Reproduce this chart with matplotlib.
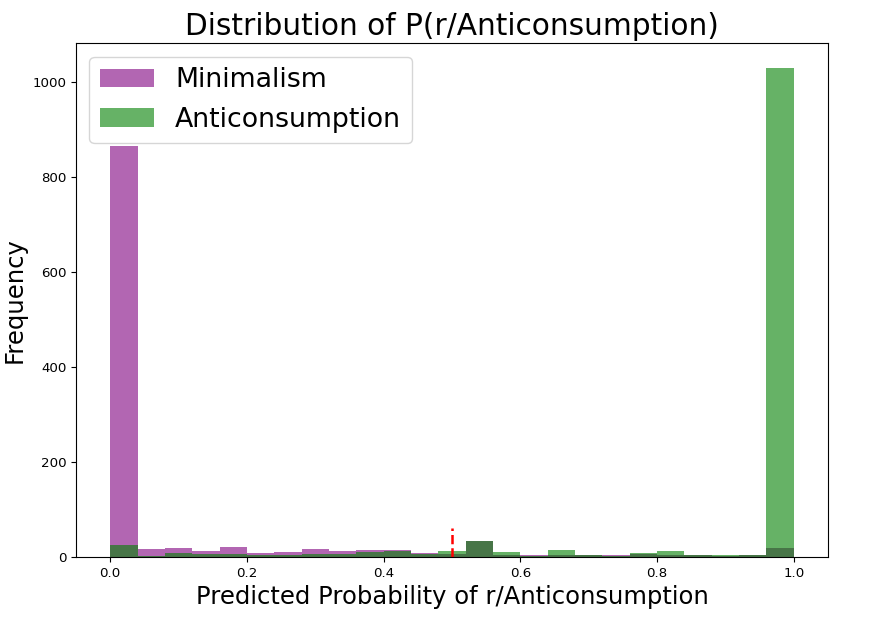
import numpy as np
import matplotlib
matplotlib.use('Agg')
import matplotlib.pyplot as plt

# 25 classes de 0.04 entre 0 e 1
edges = np.linspace(0, 1, 26)
centros = (edges[:-1] + edges[1:]) / 2

# contagens
minimalism = [865, 16, 20, 13, 22, 8, 11, 17, 12, 14, 14, 8, 6, 33,
              5, 5, 4, 5, 4, 7, 5, 5, 3, 4, 20]
anticonsumption = [25, 2, 8, 7, 7, 5, 5, 6, 7, 10, 12, 6, 12, 34,
                   11, 3, 14, 5, 3, 8, 12, 5, 5, 4, 1031]

fig = plt.figure(figsize=(8.7, 6.17), dpi=100)
ax = fig.add_axes([0.0874, 0.0972, 0.8643, 0.8328])

ax.hist(centros, bins=edges, weights=minimalism, color='purple', alpha=0.6,
        label='Minimalism')
ax.hist(centros, bins=edges, weights=anticonsumption, color='green', alpha=0.6,
        label='Anticonsumption')
ax.vlines(x=0.5, ymin=0, ymax=61, color='r', linestyle='--', linewidth=1.8)

ax.set_title('Distribution of P(r/Anticonsumption)', fontsize=21.3)
ax.set_xlabel('Predicted Probability of r/Anticonsumption', fontsize=17.5)
ax.set_ylabel('Frequency', fontsize=17.5)
ax.tick_params(labelsize=9.6)
ax.legend(loc='upper left', fontsize=19.3)

fig.savefig('out.png', dpi=100)
